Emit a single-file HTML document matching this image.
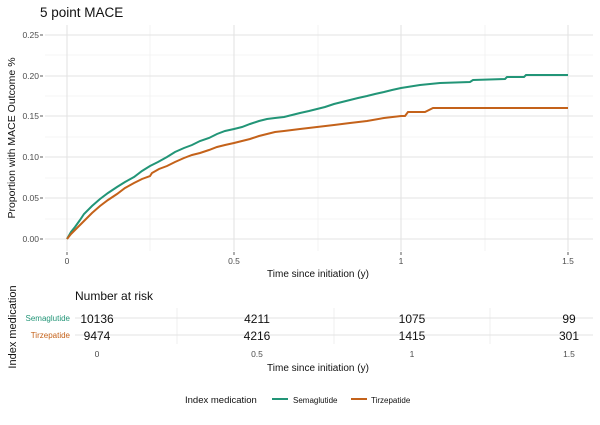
<!DOCTYPE html>
<html><head><meta charset="utf-8"><style>
body{margin:0;background:#fff;}
svg text{font-family:"Liberation Sans",sans-serif;}
</style></head><body>
<svg width="600" height="420" viewBox="0 0 600 420">
<rect width="600" height="420" fill="#fff"/>
<text x="40" y="17" font-size="13.5" fill="#111">5 point MACE</text>
<g stroke="#ebebeb" stroke-width="0.6">
<line x1="45" x2="593" y1="219" y2="219"/><line x1="45" x2="593" y1="178" y2="178"/>
<line x1="45" x2="593" y1="137" y2="137"/><line x1="45" x2="593" y1="96" y2="96"/>
<line x1="45" x2="593" y1="55" y2="55"/>
<line x1="150" x2="150" y1="25" y2="251"/><line x1="318" x2="318" y1="25" y2="251"/>
<line x1="485" x2="485" y1="25" y2="251"/>
</g>
<g stroke="#e3e3e3" stroke-width="1.1">
<line x1="45" x2="593" y1="239" y2="239"/><line x1="45" x2="593" y1="198" y2="198"/>
<line x1="45" x2="593" y1="157" y2="157"/><line x1="45" x2="593" y1="116" y2="116"/>
<line x1="45" x2="593" y1="76" y2="76"/><line x1="45" x2="593" y1="35" y2="35"/>
<line x1="67" x2="67" y1="25" y2="251"/><line x1="234" x2="234" y1="25" y2="251"/>
<line x1="401" x2="401" y1="25" y2="251"/><line x1="568" x2="568" y1="25" y2="251"/>
</g>
<g font-size="8.5" fill="#4d4d4d" text-anchor="end">
<text x="39" y="242">0.00</text><text x="39" y="201">0.05</text><text x="39" y="160">0.10</text>
<text x="39" y="119">0.15</text><text x="39" y="79">0.20</text><text x="39" y="38">0.25</text>
</g>
<g stroke="#333" stroke-width="0.8">
<line x1="40" x2="43" y1="239" y2="239"/><line x1="40" x2="43" y1="198" y2="198"/>
<line x1="40" x2="43" y1="157" y2="157"/><line x1="40" x2="43" y1="116" y2="116"/>
<line x1="40" x2="43" y1="76" y2="76"/><line x1="40" x2="43" y1="35" y2="35"/>
<line x1="67" x2="67" y1="252" y2="255"/><line x1="234" x2="234" y1="252" y2="255"/>
<line x1="401" x2="401" y1="252" y2="255"/><line x1="568" x2="568" y1="252" y2="255"/>
</g>
<g font-size="8.5" fill="#4d4d4d" text-anchor="middle">
<text x="67" y="264">0</text><text x="234" y="264">0.5</text><text x="401" y="264">1</text><text x="568" y="264">1.5</text>
</g>
<text x="318" y="277" font-size="10" text-anchor="middle" fill="#111">Time since initiation (y)</text>
<text transform="translate(15,138) rotate(-90)" font-size="10.5" text-anchor="middle" fill="#111">Proportion with MACE Outcome %</text>
<polyline fill="none" stroke="#229577" stroke-width="2" points="67,239 71,232 75,227 80,220 84,214 92,206 100,199 108,193 117,187 125,182 134,177 142,171 150,166 158,162 167,157 175,152 184,148 192,145 200,141 209,138 217,134 225,131 234,129 242,127 250,124 259,121 267,119 275,118 284,117 292,115 300,113 309,111 317,109 325,107 334,104 342,102 350,100 358,98 367,96 375,94 384,92 392,90 401,88 420,85 440,83 470,82 473,80 505,79 507,77 524,77 526,75 568,75"/>
<polyline fill="none" stroke="#c4621a" stroke-width="2" points="67,239 71,234 75,230 80,225 84,221 92,213 100,206 108,200 117,194 125,188 134,183 142,179 150,176 152,173 159,169 167,166 175,162 184,158 192,155 200,153 209,150 217,147 225,145 234,143 242,141 250,139 259,136 267,134 275,132 284,131 292,130 300,129 317,127 334,125 350,123 367,121 384,118 401,116 405,116 408,112 425,112 433,108 568,108"/>
<text transform="translate(16,327) rotate(-90)" font-size="11" text-anchor="middle" fill="#111">Index medication</text>
<text x="75" y="300" font-size="12" fill="#111">Number at risk</text>
<g stroke="#ebebeb" stroke-width="0.8">
<line x1="177" x2="177" y1="308" y2="344"/><line x1="334" x2="334" y1="308" y2="344"/><line x1="490" x2="490" y1="308" y2="344"/>
</g>
<g stroke="#e3e3e3" stroke-width="1">
<line x1="75" x2="593" y1="318" y2="318"/><line x1="75" x2="593" y1="335" y2="335"/>
</g>
<text x="70" y="321" font-size="8" text-anchor="end" fill="#229577">Semaglutide</text>
<text x="70" y="338" font-size="8" text-anchor="end" fill="#c4621a">Tirzepatide</text>
<g font-size="12" fill="#111" text-anchor="middle">
<text x="97" y="323">10136</text><text x="257" y="323">4211</text><text x="412" y="323">1075</text><text x="569" y="323">99</text>
<text x="97" y="340">9474</text><text x="257" y="340">4216</text><text x="412" y="340">1415</text><text x="569" y="340">301</text>
</g>
<g font-size="8.5" fill="#4d4d4d" text-anchor="middle">
<text x="97" y="357">0</text><text x="257" y="357">0.5</text><text x="412" y="357">1</text><text x="569" y="357">1.5</text>
</g>
<text x="318" y="371" font-size="10" text-anchor="middle" fill="#111">Time since initiation (y)</text>
<text x="185" y="403" font-size="9.5" fill="#111">Index medication</text>
<line x1="272" x2="288" y1="399" y2="399" stroke="#229577" stroke-width="2"/>
<text x="293" y="403" font-size="8" fill="#111">Semaglutide</text>
<line x1="351" x2="367" y1="399" y2="399" stroke="#c4621a" stroke-width="2"/>
<text x="371" y="403" font-size="8" fill="#111">Tirzepatide</text>
</svg>
</body></html>
